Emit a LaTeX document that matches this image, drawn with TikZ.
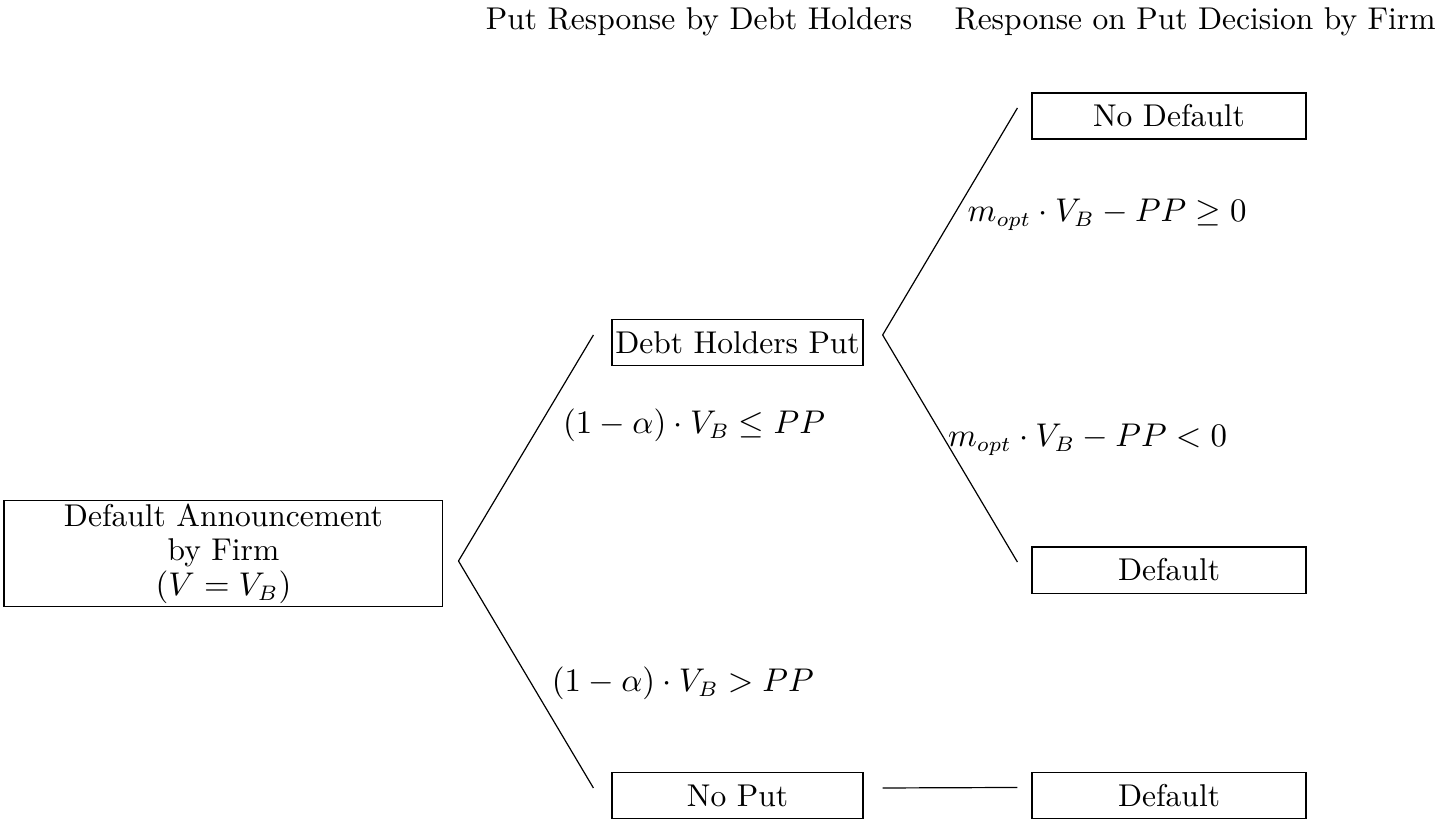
\documentclass[tikz,border=0pt]{standalone}
\begin{document}
\begin{tikzpicture}[every node/.style={font=\fontsize{10.5}{11.5}\selectfont},
  box/.style={draw,align=center,inner sep=0pt},
  rbox/.style={box,minimum width=3.21cm,minimum height=0.54cm},
  mbox/.style={box,minimum width=2.94cm,minimum height=0.53cm}]
\useasboundingbox (0,0) rectangle (16.858,-9.618);
% column titles
\node (title1) at (8.19,-0.25) {Put Response by Debt Holders};
\node (title2) at (14.00,-0.25) {Response on Put Decision by Firm};
% boxes
\node[box,minimum width=5.14cm,minimum height=1.25cm] (root) at (2.618,-6.484) {Default Announcement\\ by Firm\\ $(V=V_B)$};
\node[mbox] (put) at (8.640,-4.012) {Debt Holders Put};
\node[mbox] (noput) at (8.640,-9.319) {No Put};
\node[rbox] (nodef) at (13.695,-1.359) {No Default};
\node[rbox] (def) at (13.695,-6.678) {Default};
\node[rbox] (deflow) at (13.695,-9.319) {Default};
% branches
\draw ([shift={(0.176,-0.088)}]root.east) -- ([shift={(-0.211,0.088)}]put.west);
\draw ([shift={(0.176,-0.088)}]root.east) -- ([shift={(-0.211,0.088)}]noput.west);
\draw ([shift={(0.223,0.088)}]put.east) -- ([shift={(-0.164,0.094)}]nodef.west);
\draw ([shift={(0.223,0.088)}]put.east) -- ([shift={(-0.164,0.094)}]def.west);
\draw ([shift={(0.223,0.088)}]noput.east) -- ([shift={(-0.164,0.094)}]deflow.west);
% conditions
\node (c1) at (8.13,-4.979) {$(1-\alpha)\cdot V_B \leq PP$};
\node (c2) at (8.00,-8.00) {$(1-\alpha)\cdot V_B > PP$};
\node (c3) at (12.97,-2.52) {$m_{opt}\cdot V_B - PP \geq 0$};
\node (c4) at (12.74,-5.155) {$m_{opt}\cdot V_B - PP < 0$};
\end{tikzpicture}
\end{document}
